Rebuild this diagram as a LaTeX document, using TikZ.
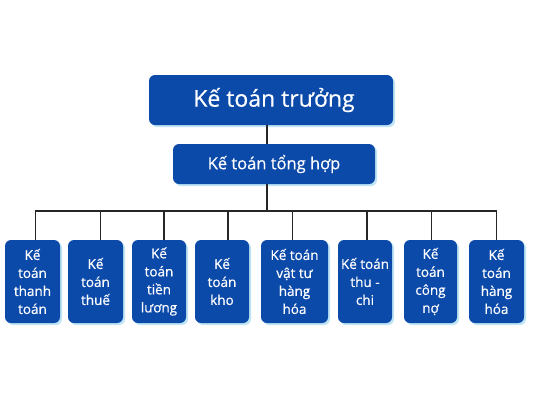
\documentclass[tikz,border=0pt]{standalone}
\usepackage{fontspec}
\setmainfont{Open Sans}
\newfontfamily\medfont{Open Sans}[UprightFeatures={FakeBold=0.5}]
\usetikzlibrary{shadows}
\definecolor{boxblue}{RGB}{12,74,170}
\definecolor{shadowblue}{RGB}{190,228,245}
\tikzset{
  box/.style={fill=boxblue, rounded corners=6pt, text=white, align=center,
    inner sep=0pt,
    drop shadow={shadow xshift=2pt, shadow yshift=-2pt, fill=shadowblue, opacity=1}},
  small/.style={box, minimum height=83pt, font=\medfont\fontsize{13.5}{18}\selectfont},
  link/.style={draw=black!85, line width=1.5pt}
}
\begin{document}
\begin{tikzpicture}[x=1pt,y=-1pt]
\useasboundingbox (0,0) rectangle (533,400);
\coordinate (bus) at (0,211);
\coordinate (spine) at (267,0);
\node[box, minimum width=244pt, minimum height=50pt, font=\medfont\fontsize{23}{26}\selectfont] (t1) at (271,100) {\hspace{6pt}Kế toán trưởng};
\node[box, minimum width=202pt, minimum height=40pt, font=\medfont\fontsize{16.5}{20}\selectfont] (t2) at (274,164) {Kế toán tổng hợp};
\node[small, minimum width=55pt] (b1) at (32.5,281.5) {Kế\\toán\\thanh\\toán};
\node[small, minimum width=55pt] (b2) at (95.5,281.5) {Kế\\toán\\thuế};
\node[small, minimum width=54pt] (b3) at (159,281.5) {Kế\\toán\\tiền\\lương};
\node[small, minimum width=54pt] (b4) at (222,281.5) {Kế\\toán\\kho};
\node[small, minimum width=67pt] (b5) at (294.5,281.5) {Kế toán\\vật tư\\hàng\\hóa};
\node[small, minimum width=54pt] (b6) at (365,281.5) {Kế toán\\thu -\\chi};
\node[small, minimum width=53pt] (b7) at (430.5,281.5) {Kế\\toán\\công\\nợ};
\node[small, minimum width=55pt] (b8) at (496.5,281.5) {Kế\\toán\\hàng\\hóa};
\draw[link] (t1.south -| spine) -- (t2.north -| spine);
\draw[link] (t2.south -| spine) -- (spine |- bus);
\draw[link, line cap=rect] ([xshift=3pt]b1.north |- bus) -- (b8.north |- bus);
\foreach \b/\dx in {b1/3,b2/5,b3/5,b4/6,b5/-2,b6/2,b7/1,b8/0}{
  \draw[link] ([xshift=\dx pt]\b.north) -- ([xshift=\dx pt]\b.north |- bus);
}
\end{tikzpicture}
\end{document}
